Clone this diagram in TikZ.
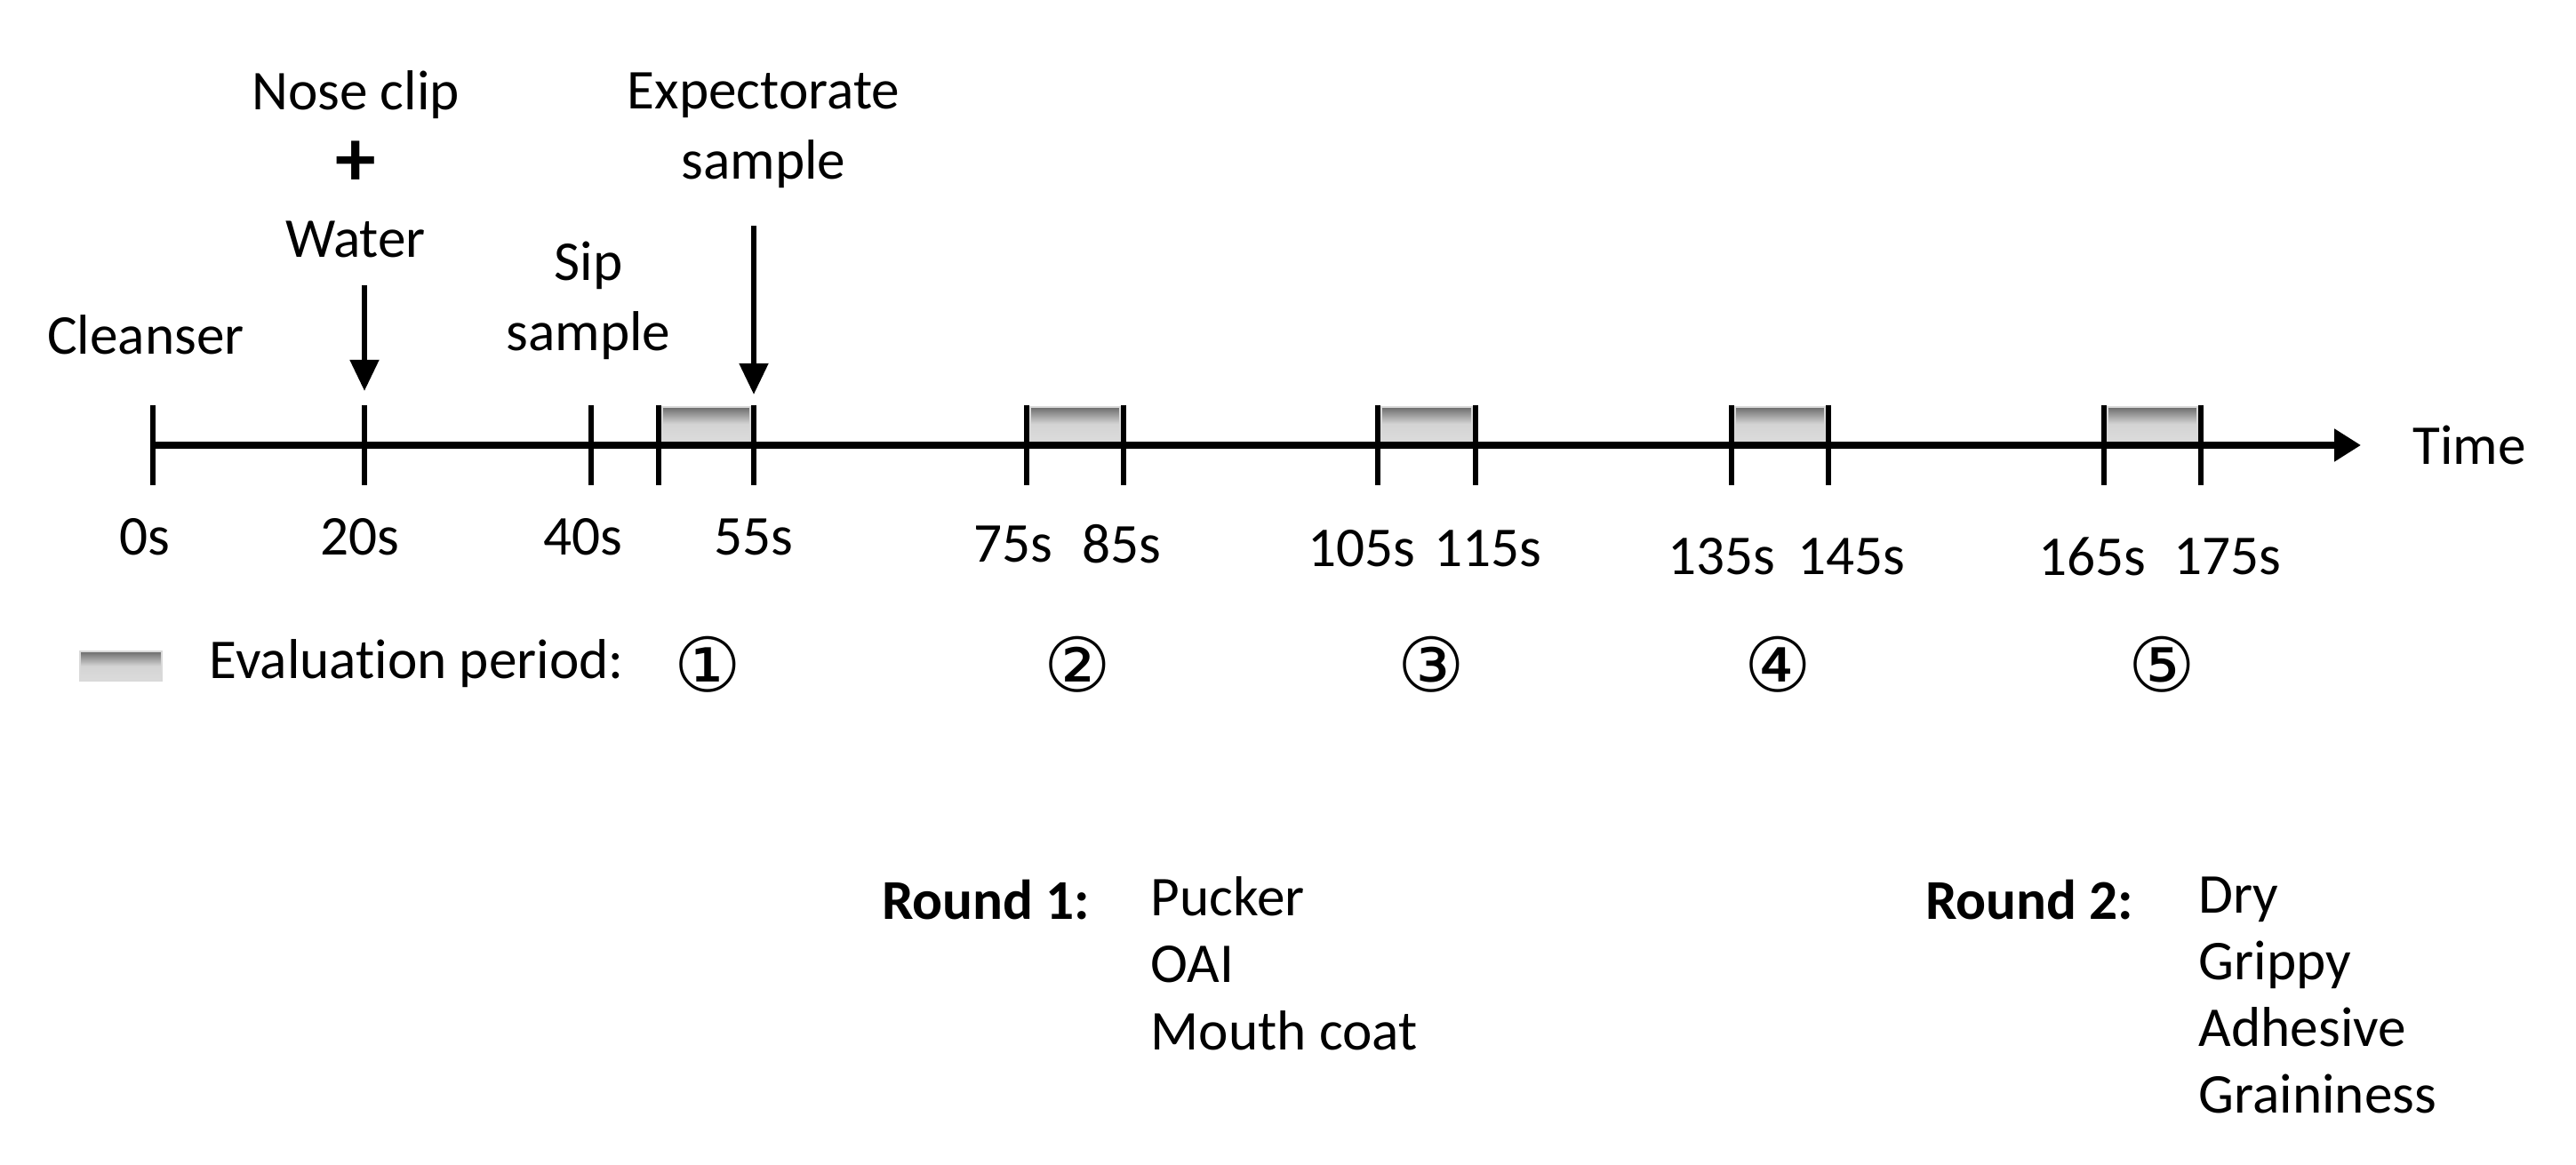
\documentclass[tikz,border=0pt]{standalone}
\usepackage{fontspec}
\setmainfont[Ligatures=NoCommon]{Carlito}
\newfontfamily\circfont{DejaVu Sans}
\usetikzlibrary{arrows.meta}
\usetikzlibrary{calc}

\tikzset{
  timeaxis/.style={line width=2.1pt, -{Triangle[length=8.5pt,width=10pt]}},
  tickline/.style={line width=1.6pt},
  evalbox/.style={draw=black!15, line width=0.6pt, top color=black!58, bottom color=black!14, middle color=black!17},
  eventarrow/.style={line width=1.8pt, -{Triangle[length=10pt,width=9pt]}},
  lbl/.style={font=\fontsize{18}{21.4}\selectfont, inner sep=0pt},
  period/.style={font=\circfont\fontsize{24}{28}\selectfont, inner sep=0pt},
}

\begin{document}
\begin{tikzpicture}
\useasboundingbox (0,0) rectangle (28.98,13.11);

%%%%%%%%%%%%%%%%%%%%%%%%%%%%%%%%%%%%%%%%%%%%%%%%%%%%%%%%%%%%%% time axis
\foreach \x/\n in {1.72/t0, 4.10/t20, 6.65/t40, 7.41/t45, 8.48/t55,
                   11.55/t75, 12.64/t85, 15.50/t105, 16.60/t115,
                   19.48/t135, 20.57/t145, 23.67/t165, 24.76/t175}
  \coordinate (\n) at (\x, 8.10);
\coordinate (tend) at (26.56, 8.10);

\foreach \a/\b in {t45/t55, t75/t85, t105/t115, t135/t145, t165/t175}
  \draw[evalbox] ($(\a)+(0.04,0.05)$) rectangle ($(\b)+(-0.04,0.43)$);

\draw[timeaxis] (t0) -- (tend);
\node[lbl] (time) at (27.78, 8.10) {Time};

\foreach \n in {t0,t20,t40,t45,t55,t75,t85,t105,t115,t135,t145,t165,t175}
  \draw[tickline] ($(\n)+(0,0.45)$) -- ($(\n)+(0,-0.45)$);

%%%%%%%%%%%%%%%%%%%%%%%%%%%%%%%%%%%%%%%%%%%%%%%%%%%%%%%%%%%%%% tick labels
\node[lbl] (l0)   at (1.63, 7.07)  {0s};
\node[lbl] (l20)  at (4.05, 7.07)  {20s};
\node[lbl] (l40)  at (6.56, 7.07)  {40s};
\node[lbl] (l55)  at (8.48, 7.07)  {55s};
\node[lbl] (l75)  at (11.40, 6.99) {75s};
\node[lbl] (l85)  at (12.62, 6.99) {85s};
\node[lbl] (l105) at (15.32, 6.94) {105s};
\node[lbl] (l115) at (16.74, 6.94) {115s};
\node[lbl] (l135) at (19.37, 6.85) {135s};
\node[lbl] (l145) at (20.83, 6.85) {145s};
\node[lbl] (l165) at (23.54, 6.85) {165s};
\node[lbl] (l175) at (25.06, 6.85) {175s};

%%%%%%%%%%%%%%%%%%%%%%%%%%%%%%%%%%%%%%%%%%%%%%%%%%%%%%%%%%%%%% events
\node[lbl] (cleanser) at (1.64, 9.34) {Cleanser};
\node[lbl, align=center] (noseclip) at (4.00, 11.26) {Nose clip\\[3pt]{\fontsize{26}{26}\selectfont\textbf{+}}\\[1.5pt]Water};
\node[lbl, align=center] (sip) at (6.62, 9.73) {Sip\\[1pt]sample};
\node[lbl, align=center] (expect) at (8.59, 11.64) {Expectorate\\[1pt]sample};

\coordinate (t20tip) at ($(t20)+(0,0.61)$);
\coordinate (t55tip) at ($(t55)+(0,0.57)$);
\draw[eventarrow, shorten <=0.3cm] (noseclip.south -| t20tip) -- (t20tip);
\draw[eventarrow, shorten <=0.42cm] (expect.south -| t55tip) -- (t55tip);

%%%%%%%%%%%%%%%%%%%%%%%%%%%%%%%%%%%%%%%%%%%%%%%%%%%%%%%%%%%%%% legend
\draw[evalbox] (0.90,5.45) rectangle (1.82,5.78);
\node[lbl, anchor=west] (evallbl) at (2.35, 5.64) {Evaluation period:};
\node[period] (p1) at (7.96, 5.63)  {①};
\node[period] (p2) at (12.12, 5.63) {②};
\node[period] (p3) at (16.10, 5.63) {③};
\node[period] (p4) at (20.00, 5.63) {④};
\node[period] (p5) at (24.32, 5.63) {⑤};

%%%%%%%%%%%%%%%%%%%%%%%%%%%%%%%%%%%%%%%%%%%%%%%%%%%%%%%%%%%%%% rounds
\node[lbl, anchor=east, font=\fontsize{18}{21.4}\selectfont\bfseries] (round1) at (12.27, 2.98) {Round 1:};
\node[lbl, anchor=north west, align=left] (attr1) at (12.94, 3.25) {Pucker\\OAI\\Mouth coat};
\node[lbl, anchor=east, font=\fontsize{18}{21.4}\selectfont\bfseries] (round2) at (24.01, 2.98) {Round 2:};
\node[lbl, anchor=north west, align=left] (attr2) at (24.73, 3.25) {Dry\\Grippy\\Adhesive\\Graininess};

\end{tikzpicture}
\end{document}
